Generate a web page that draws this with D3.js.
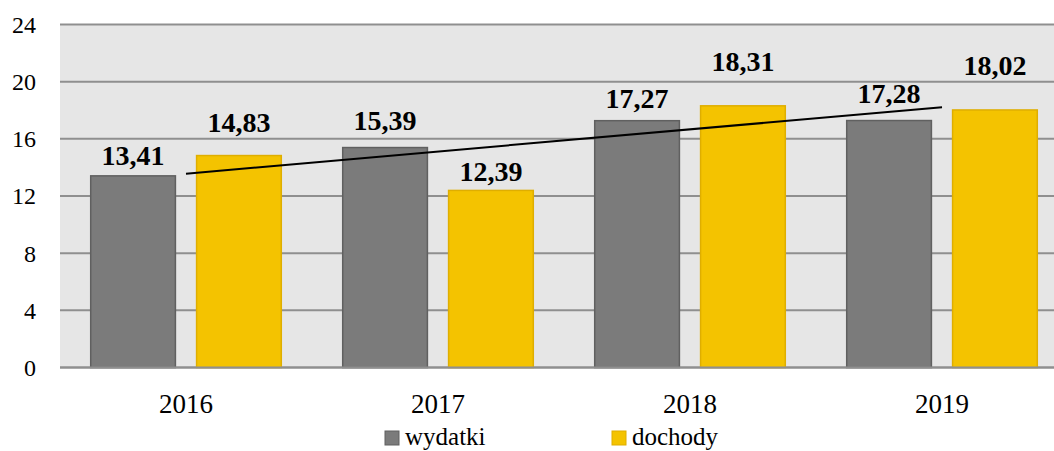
<!DOCTYPE html>
<html>
<head>
<meta charset="utf-8">
<style>
  body { margin: 0; background: #fff; }
  svg { display: block; }
</style>
</head>
<body>
<svg width="1054" height="451" font-family="Liberation Serif"></svg>
<script src="https://d3js.org/d3.v7.min.js"></script>
<script>
// data
var years = ["2016", "2017", "2018", "2019"];
var seriesNames = ["wydatki", "dochody"];
var wydatki = [13.41, 15.39, 17.27, 17.28];
var dochody = [14.83, 12.39, 18.31, 18.02];
var yTicks = [0, 4, 8, 12, 16, 20, 24];

// the value labels were hand placed in the original, so each one has its own lift
var liftW = [11, 18, 13, 18];
var liftD = [24, 9, 35, 35];

var colors = { wydatki: "#7b7b7b", dochody: "#f4c300" };
var strokes = { wydatki: "#606060", dochody: "#dfae00" };
var FONT = "Liberation Serif";

var svg = d3.select("svg"),
    width = +svg.attr("width"),
    plotLeft = 60, plotTop = 24.5, plotBottom = 367.5;

var x0 = d3.scaleBand().domain(years).range([plotLeft, plotLeft + 4 * 252]);
var x1 = d3.scaleBand().domain(seriesNames).range([0, x0.bandwidth()])
    .paddingInner(0.2).paddingOuter(0.29);
var y = d3.scaleLinear().domain([0, 24]).range([plotBottom, plotTop]);

svg.append("rect")
    .attr("x", plotLeft).attr("y", plotTop)
    .attr("width", width - plotLeft).attr("height", plotBottom - plotTop)
    .attr("fill", "#e6e6e6");

// gridlines + y labels
svg.selectAll(".grid").data(yTicks).enter().append("line")
    .attr("x1", plotLeft).attr("x2", width)
    .attr("y1", function(d){ return y(d); })
    .attr("y2", function(d){ return y(d); })
    .attr("stroke", "#8f8f8f").attr("stroke-width", 2);

svg.selectAll(".ytl").data(yTicks).enter().append("text")
    .attr("x", 36).attr("y", function(d){ return y(d); })
    .attr("dy", "0.35em")
    .attr("text-anchor", "end")
    .attr("font-family", FONT)
    .attr("font-size", 24)
    .text(function(d){ return d; });

var rows = years.map(function(yr, i){
    return { year: yr, i: i, vals: [
        { key: "wydatki", v: wydatki[i], lift: liftW[i] },
        { key: "dochody", v: dochody[i], lift: liftD[i] } ] };
});

var g = svg.selectAll(".grp").data(rows).enter().append("g")
    .attr("transform", function(d){ return "translate(" + x0(d.year) + ",0)"; });

g.selectAll("rect").data(function(d){ return d.vals; }).enter().append("rect")
    .attr("x", function(d){ return x1(d.key); })
    .attr("y", function(d){ return y(d.v); })
    .attr("width", x1.bandwidth())
    .attr("height", function(d){ return y(0) - y(d.v); })
    .attr("fill", function(d){ return colors[d.key]; })
    .attr("stroke", function(d){ return strokes[d.key]; })
    .attr("stroke-width", 1.5);

// redraw baseline over bars
svg.append("line")
    .attr("x1", plotLeft).attr("x2", width)
    .attr("y1", y(0)).attr("y2", y(0))
    .attr("stroke", "#8f8f8f").attr("stroke-width", 2);

// linear trend of dochody
var n = dochody.length,
    mx = d3.mean(d3.range(n)),
    my = d3.mean(dochody),
    slope = d3.sum(dochody, function(v, i){ return (i - mx) * (v - my); }) /
            d3.sum(d3.range(n), function(i){ return (i - mx) * (i - mx); }),
    icpt = my - slope * mx;

svg.append("line")
    .attr("x1", x0(years[0]) + x0.bandwidth() / 2)
    .attr("y1", y(icpt))
    .attr("x2", x0(years[n - 1]) + x0.bandwidth() / 2)
    .attr("y2", y(icpt + slope * (n - 1)))
    .attr("stroke", "#000").attr("stroke-width", 2);

// value labels
g.selectAll(".lbl").data(function(d){ return d.vals; }).enter().append("text")
    .attr("x", function(d){ return x1(d.key) + x1.bandwidth() / 2; })
    .attr("y", function(d){ return y(d.v) - d.lift; })
    .attr("text-anchor", "middle")
    .attr("font-family", FONT)
    .attr("font-size", 28).attr("font-weight", "bold")
    .text(function(d){ return d.v.toFixed(2).replace(".", ","); });

// x labels
svg.selectAll(".xtl").data(years).enter().append("text")
    .attr("x", function(d){ return x0(d) + x0.bandwidth() / 2; })
    .attr("y", 413)
    .attr("text-anchor", "middle")
    .attr("font-family", FONT)
    .attr("font-size", 27)
    .text(function(d){ return d; });

// legend
var legX = [385, 612];
var leg = svg.selectAll(".leg").data(seriesNames).enter().append("g")
    .attr("transform", function(d, i){ return "translate(" + legX[i] + ",431)"; });
leg.append("rect")
    .attr("width", 14).attr("height", 14)
    .attr("fill", function(d){ return colors[d]; })
    .attr("stroke", function(d){ return strokes[d]; })
    .attr("stroke-width", 1);
leg.append("text")
    .attr("x", 20).attr("y", 14)
    .attr("font-family", FONT)
    .attr("font-size", 25)
    .text(function(d){ return d; });
</script>
</body>
</html>
